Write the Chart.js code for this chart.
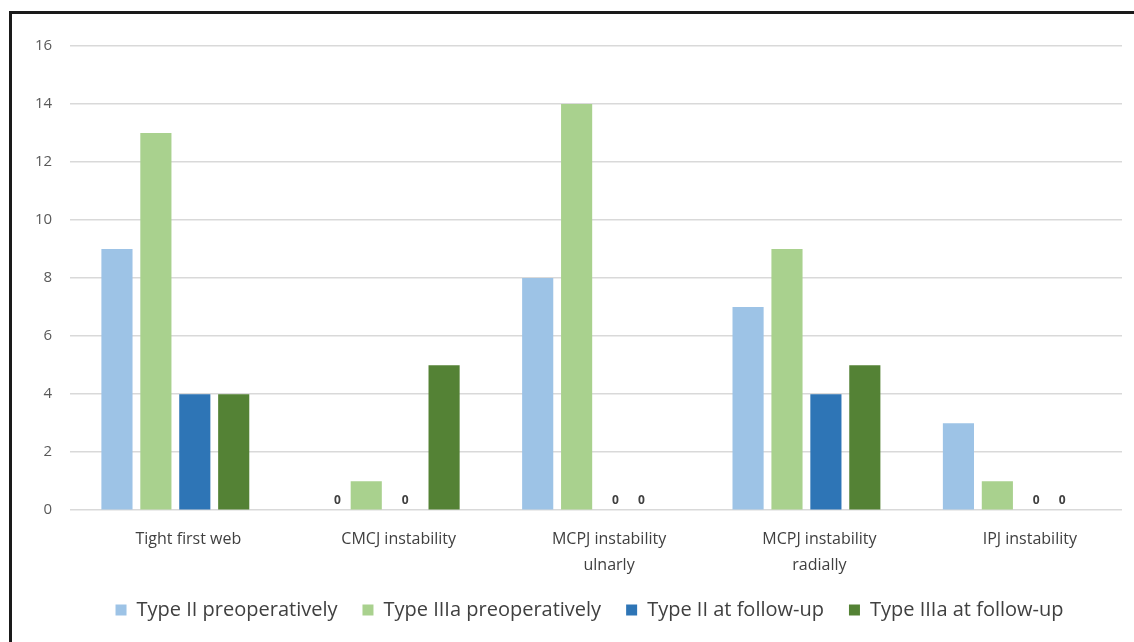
<!DOCTYPE html>
<html>
<head>
<meta charset="utf-8">
<script src="https://cdn.jsdelivr.net/npm/chart.js@4"></script>
<style>
  html, body { margin: 0; padding: 0; background: #fff; }
  #wrap { position: relative; width: 1134px; height: 642px; overflow: hidden; }
  #cadre { position: absolute; left: 9px; top: 11px; width: 1200px; height: 700px;
           border-top: 3px solid #1a1a1a; border-left: 3px solid #1a1a1a; box-sizing: border-box; pointer-events: none; }
  canvas { position: absolute; left: 0; top: 0; }
</style>
</head>
<body>
<div id="wrap">
  <canvas id="grafico" width="1134" height="642"></canvas>
  <div id="cadre"></div>
</div>
<script>
// Categorias e valores
const categorias = [
  "Tight first web",
  "CMCJ instability",
  ["MCPJ instability", "ulnarly"],
  ["MCPJ instability", "radially"],
  "IPJ instability"
];
const tipoIIPre = [9, 0, 8, 7, 3];
const tipoIIIaPre = [13, 1, 14, 9, 1];
const tipoIIFollow = [4, 0, 0, 4, 0];
const tipoIIIaFollow = [4, 5, 0, 5, 0];
const ticksY = [0, 2, 4, 6, 8, 10, 12, 14, 16];

// Rótulo "0" para as barras vazias (deslocado como no Excel)
const desvioZero = [10, 0, 0, -13];
const rotuloZero = {
  id: 'rotuloZero',
  afterDatasetsDraw(chart) {
    const ctx = chart.ctx;
    ctx.save();
    ctx.font = 'bold 12px "Open Sans", sans-serif';
    ctx.fillStyle = '#404040';
    ctx.textAlign = 'center';
    ctx.textBaseline = 'bottom';
    chart.data.datasets.forEach((ds, i) => {
      const meta = chart.getDatasetMeta(i);
      meta.data.forEach((bar, j) => {
        if (ds.data[j] === 0) {
          ctx.fillText('0', bar.x + desvioZero[i], bar.y - 4);
        }
      });
    });
    ctx.restore();
  }
};

// Legenda um pouco mais à direita
const moverLegenda = {
  id: 'moverLegenda',
  afterLayout(chart) {
    chart.legend.left += 20;
    chart.legend.right += 20;
  }
};

const ctx = document.getElementById("grafico").getContext("2d");

new Chart(ctx, {
  type: 'bar',
  data: {
    labels: categorias,
    datasets: [
      { label: 'Type II preoperatively', data: tipoIIPre, backgroundColor: '#9dc3e6' },
      { label: 'Type IIIa preoperatively', data: tipoIIIaPre, backgroundColor: '#a9d18e' },
      { label: 'Type II at follow-up', data: tipoIIFollow, backgroundColor: '#2e75b6' },
      { label: 'Type IIIa at follow-up', data: tipoIIIaFollow, backgroundColor: '#548235' }
    ]
  },
  options: {
    responsive: false,
    animation: false,
    categoryPercentage: 0.74,
    barPercentage: 0.8,
    layout: { padding: { left: 17, right: 12, top: 46, bottom: 12 } },
    plugins: {
      legend: {
        position: 'bottom',
        labels: {
          boxWidth: 11,
          boxHeight: 11,
          padding: 25,
          color: '#404040',
          font: { family: '"Open Sans", sans-serif', size: 20 }
        }
      },
      tooltip: { enabled: false }
    },
    scales: {
      x: {
        grid: { display: false },
        border: { display: false },
        afterFit: (scale) => { scale.height -= 12; },
        ticks: {
          color: '#404040',
          padding: 8,
          labelOffset: 13,
          font: { family: '"Open Sans", sans-serif', size: 16, lineHeight: 1.65 }
        }
      },
      y: {
        min: 0,
        max: 16,
        afterBuildTicks: (axis) => { axis.ticks = ticksY.map(v => ({ value: v })); },
        grid: { color: '#d9d9d9', lineWidth: 1.5, drawTicks: false },
        border: { display: false },
        ticks: {
          color: '#595959',
          padding: 18,
          font: { family: '"Open Sans", sans-serif', size: 15 }
        }
      }
    }
  },
  plugins: [rotuloZero, moverLegenda]
});
</script>
</body>
</html>
